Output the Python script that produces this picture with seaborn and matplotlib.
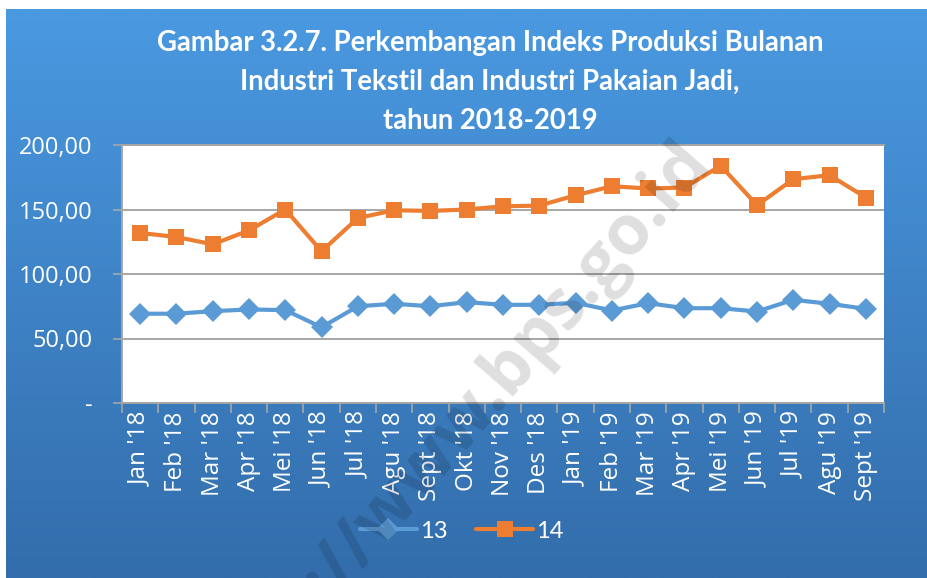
import numpy as np
import pandas as pd
import matplotlib
matplotlib.use("Agg")
import matplotlib.pyplot as plt
import seaborn as sns
from matplotlib.ticker import FixedLocator, FuncFormatter

months = ["Jan '18", "Feb '18", "Mar '18", "Apr '18", "Mei '18", "Jun '18", "Jul '18",
          "Agu '18", "Sept '18", "Okt '18", "Nov '18", "Des '18", "Jan '19", "Feb '19",
          "Mar '19", "Apr '19", "Mei '19", "Jun '19", "Jul '19", "Agu '19", "Sept '19"]
series13 = [69.2, 69.2, 71.2, 72.5, 72.0, 58.7, 75.0, 76.9, 75.0, 78.2, 76.1, 76.1,
            77.7, 71.7, 77.4, 73.5, 73.5, 70.9, 80.0, 76.9, 73.0]
series14 = [131.8, 128.7, 123.0, 133.8, 150.0, 117.6, 143.4, 149.4, 148.9, 150.0, 152.5,
            153.0, 161.0, 168.0, 166.3, 167.0, 183.9, 153.3, 173.5, 176.6, 159.3]
names = ["13", "14"]
colors = {"13": "#5b9bd5", "14": "#ed7d31"}
yticks = [0, 50, 100, 150, 200]
title = "Gambar 3.2.7. Perkembangan Indeks Produksi Bulanan\nIndustri Tekstil dan Industri Pakaian Jadi,\ntahun 2018-2019"
watermark = "https://www.bps.go.id"

df = pd.DataFrame({
    "idx": list(range(len(months))) * 2,
    "value": series13 + series14,
    "seri": [names[0]] * len(months) + [names[1]] * len(months),
})

sns.set_theme(style="white")
plt.rcParams["font.family"] = ["Open Sans", "DejaVu Sans"]

W, H = 927, 578
fig = plt.figure(figsize=(W / 100, H / 100), dpi=100)
fig.patch.set_facecolor("white")

# background gradient panel
bg = fig.add_axes([6 / W, 0, 1 - 6 / W, 1 - 9 / H], zorder=0)
grad = np.linspace(0, 1, 256).reshape(-1, 1)
top = np.array([0x4a, 0x99, 0xe1]) / 255
bot = np.array([0x33, 0x6d, 0xab]) / 255
img = top[None, None, :] * (1 - grad[:, :, None]) + bot[None, None, :] * grad[:, :, None]
bg.imshow(img, aspect="auto", extent=[0, 1, 0, 1])
bg.set_axis_off()

ax = fig.add_axes([122 / W, 1 - 403 / H, (884 - 122) / W, (403 - 145) / H], zorder=2)
ax.set_facecolor("white")

sns.lineplot(data=df, x="idx", y="value", hue="seri", style="seri",
             markers={"13": "D", "14": "s"}, dashes=False, palette=colors,
             linewidth=3.0, markersize=11.5, markeredgewidth=0, ax=ax, legend=True)

ax.set_xlim(-0.5, len(months) - 0.5)
ax.set_ylim(0, 200)
ax.set_yticks(yticks)
ax.yaxis.set_major_formatter(FuncFormatter(lambda v, p: "-" if v == 0 else f"{v:.2f}".replace(".", ",")))
ax.grid(axis="y", color="#a6a6a6", linewidth=1.4)
ax.set_axisbelow(True)
ax.set_xticks(range(len(months)))
ax.set_xticklabels(months, rotation=90, fontsize=17.5, color="white")
ax.xaxis.set_minor_locator(FixedLocator(np.arange(-0.5, len(months), 1.0)))
ax.tick_params(axis="x", which="major", length=0, pad=6)
ax.tick_params(axis="x", which="minor", length=7, width=1.2, color="#a6a6a6", bottom=True)
ax.tick_params(axis="y", length=6.5, width=1.2, color="#a6a6a6", labelsize=17, labelcolor="white", pad=15, left=True)
ax.set_xlabel("")
ax.set_ylabel("")
for s in ["top", "left", "bottom"]:
    ax.spines[s].set_color("#a6a6a6")
    ax.spines[s].set_linewidth(1.4)
ax.spines["right"].set_visible(False)

leg = ax.legend(loc="center", bbox_to_anchor=(462 / W, 1 - 531 / H), bbox_transform=fig.transFigure,
                ncol=2, frameon=False, handlelength=2.4, columnspacing=1.2,
                handletextpad=0.15, prop={"family": ["Lato", "DejaVu Sans"], "size": 17})
for t in leg.get_texts():
    t.set_color("white")

fig.text(490 / W, 1 - 82 / H, title, ha="center", va="center", color="white",
         fontsize=19.8, fontweight="bold", family=["Lato", "DejaVu Sans"], linespacing=1.6)

# watermark
fig.text(447 / W, 1 - 440 / H, watermark, ha="center", va="center", rotation_mode="anchor",
         rotation=49, fontsize=50, fontweight="bold", color="black", alpha=0.13, zorder=5)

fig.savefig("out.png", dpi=100, facecolor=fig.get_facecolor())
